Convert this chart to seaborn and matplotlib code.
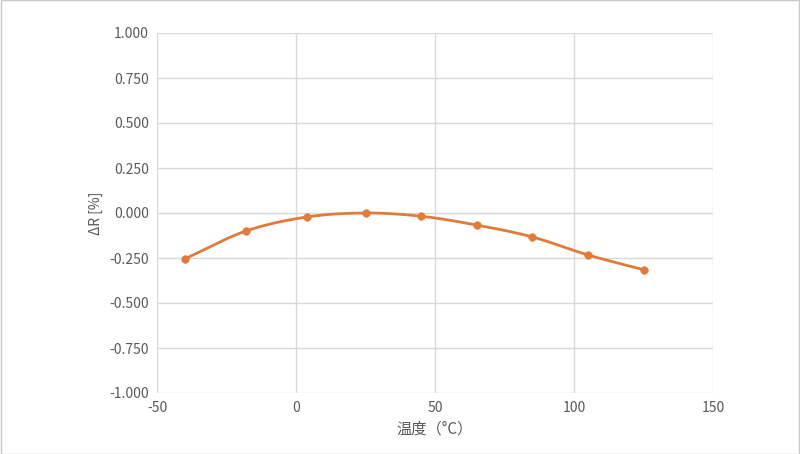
import matplotlib
matplotlib.use('Agg')
import matplotlib.pyplot as plt
import seaborn as sns
import numpy as np

temps = [-40, -18, 4, 25, 45, 65, 85, 105, 125]
delta_r = [-0.255, -0.100, -0.022, 0.000, -0.018, -0.067, -0.133, -0.233, -0.315]


def smooth(x, y, n=20):
    # catmull-rom curve through the points, like excel's smoothed line
    x = np.asarray(x, float)
    y = np.asarray(y, float)
    px = np.concatenate([[2 * x[0] - x[1]], x, [2 * x[-1] - x[-2]]])
    py = np.concatenate([[2 * y[0] - y[1]], y, [2 * y[-1] - y[-2]]])
    xs, ys = [], []
    t = np.linspace(0, 1, n)
    for i in range(1, len(px) - 2):
        for p, out in ((px, xs), (py, ys)):
            p0, p1, p2, p3 = p[i - 1:i + 3]
            out.extend(0.5 * (2 * p1 + (-p0 + p2) * t + (2 * p0 - 5 * p1 + 4 * p2 - p3) * t ** 2
                              + (-p0 + 3 * p1 - 3 * p2 + p3) * t ** 3))
    return xs, ys


sns.set_style('white')
plt.rcParams['font.family'] = ['Noto Sans CJK JP', 'DejaVu Sans']
plt.rcParams['axes.unicode_minus'] = False

fig = plt.figure(figsize=(8, 4.54), dpi=100)
fig.patches.append(plt.Rectangle((0.001, 0.001), 0.998, 0.998, transform=fig.transFigure,
                                 fill=False, edgecolor='#c8c8c8', linewidth=1))
ax = fig.add_axes([157 / 800, 1 - 393 / 454, 556 / 800, 360 / 454])

color = '#E07B39'
sx, sy = smooth(temps, delta_r)
sns.lineplot(x=sx, y=sy, ax=ax, color=color, linewidth=2, sort=False)
sns.scatterplot(x=temps, y=delta_r, ax=ax, color=color, s=30, edgecolor=color, zorder=3)

ax.set_xlim(-50, 150)
ax.set_ylim(-1, 1)
ax.set_xticks(range(-50, 151, 50))
ax.set_yticks(np.arange(-1, 1.01, 0.25))
ax.set_yticklabels([f'{v:.3f}' for v in np.arange(-1, 1.01, 0.25)])
ax.grid(True, color='#d9d9d9', linewidth=1)
for s in ax.spines.values():
    s.set_visible(False)
ax.tick_params(colors='#595959', labelsize=10, length=0, pad=6)
ax.set_xlabel('温度（°C）', color='#595959', fontsize=11)
ax.set_ylabel('ΔR [%]', color='#595959', fontsize=10)

fig.savefig('out.png', dpi=100)
